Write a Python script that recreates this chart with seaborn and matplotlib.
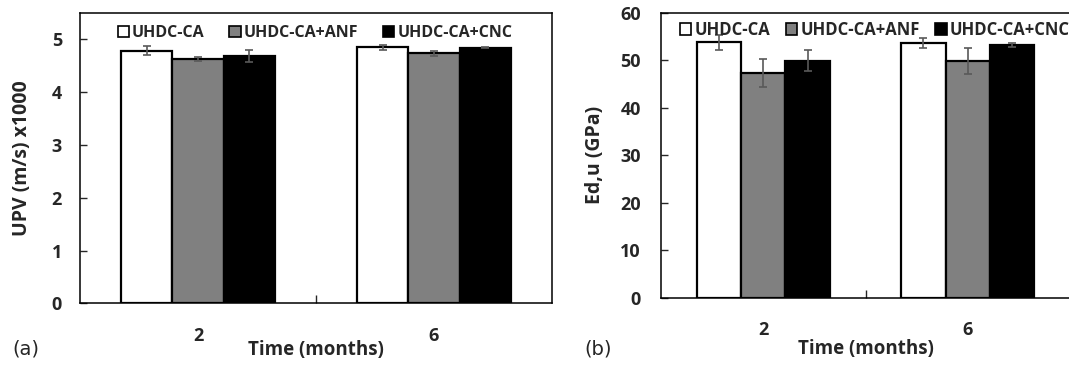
import numpy as np
import pandas as pd
import seaborn as sns
import matplotlib.pyplot as plt
from matplotlib.patches import Patch

# data
months = ['2', '6']
mixes = ['UHDC-CA', 'UHDC-CA+ANF', 'UHDC-CA+CNC']
colors = ['white', '#808080', 'black']

upv_mean = {'UHDC-CA': [4.79, 4.85], 'UHDC-CA+ANF': [4.63, 4.74], 'UHDC-CA+CNC': [4.69, 4.84]}
upv_err = {'UHDC-CA': [0.09, 0.045], 'UHDC-CA+ANF': [0.045, 0.05], 'UHDC-CA+CNC': [0.11, 0.01]}

edu_mean = {'UHDC-CA': [53.8, 53.6], 'UHDC-CA+ANF': [47.4, 49.9], 'UHDC-CA+CNC': [49.9, 53.2]}
edu_err = {'UHDC-CA': [1.65, 1.05], 'UHDC-CA+ANF': [2.9, 2.75], 'UHDC-CA+CNC': [2.2, 0.4]}


def to_long(means, errs):
    rows = []
    for m in mixes:
        for i, t in enumerate(months):
            rows.append({'Time': t, 'Mix': m, 'value': means[m][i], 'err': errs[m][i]})
    return pd.DataFrame(rows)


sns.set_style('white')
plt.rcParams['font.family'] = ['Open Sans', 'DejaVu Sans']
plt.rcParams['font.weight'] = 'bold'


def draw(ax, df, ylim, yticks, ylabel, ypad, ylab_x, xlab_y, leg_xy, leg_fs, colsp):
    sns.barplot(data=df, x='Time', y='value', hue='Mix', order=months, hue_order=mixes,
                palette=colors, width=0.65, gap=0, errorbar=None, edgecolor='black',
                linewidth=1.6, saturation=1, ax=ax, legend=False)
    # error bars at the bar centres
    for cont, m in zip(ax.containers, mixes):
        sub = df[df['Mix'] == m].set_index('Time').loc[months]
        xs = [b.get_x() + b.get_width() / 2 for b in cont]
        ax.errorbar(xs, sub['value'], yerr=sub['err'], fmt='none', ecolor='#595959',
                    elinewidth=1.2, capsize=3, capthick=1.2, zorder=5)
    ax.set_xlim(-0.5, 1.5)
    ax.set_ylim(*ylim)
    ax.set_yticks(yticks)
    ax.set_ylabel(ylabel, fontsize=14, fontweight='bold')
    ax.set_xlabel('Time (months)', fontsize=13.5, fontweight='bold')
    ax.yaxis.set_label_coords(ylab_x, 0.5)
    ax.xaxis.set_label_coords(0.5, xlab_y)
    ax.tick_params(axis='y', direction='in', length=5, width=1, labelsize=13, pad=ypad, left=True)
    ax.tick_params(axis='x', length=0, labelsize=13, pad=17)
    ax.set_xticks([0.5], minor=True)
    ax.tick_params(axis='x', which='minor', direction='in', length=6, width=1, bottom=True)
    for sp in ax.spines.values():
        sp.set_visible(True)
        sp.set_color('black')
        sp.set_linewidth(1.1)
    handles = [Patch(facecolor=c, edgecolor='black', linewidth=1.2) for c in colors]
    ax.legend(handles, mixes, ncol=3, loc='center left', bbox_to_anchor=leg_xy,
              frameon=False, prop={'size': leg_fs, 'weight': 'bold'}, handlelength=0.7,
              handleheight=0.7, handletextpad=0.2, columnspacing=colsp,
              borderaxespad=0, borderpad=0)


fig = plt.figure(figsize=(10.69, 3.67), dpi=100)
ax1 = fig.add_axes([0.0748, 0.1735, 0.4416, 0.791])
ax2 = fig.add_axes([0.6183, 0.1888, 0.3827, 0.7758])

draw(ax1, to_long(upv_mean, upv_err), (0, 5.5), [0, 1, 2, 3, 4, 5], 'UPV (m/s) x1000',
     ypad=13, ylab_x=-0.101, xlab_y=-0.128, leg_xy=(0.08, 0.93), leg_fs=11.5, colsp=1.55)
draw(ax2, to_long(edu_mean, edu_err), (0, 60), [0, 10, 20, 30, 40, 50, 60], 'Ed,u (GPa)',
     ypad=14.4, ylab_x=-0.137, xlab_y=-0.145, leg_xy=(0.046, 0.94), leg_fs=12, colsp=0.9)

fig.text(0.012, 0.035, '(a)', fontsize=14, fontweight='normal', family='DejaVu Sans')
fig.text(0.547, 0.035, '(b)', fontsize=14, fontweight='normal', family='DejaVu Sans')

fig.savefig('out.png', dpi=100)
